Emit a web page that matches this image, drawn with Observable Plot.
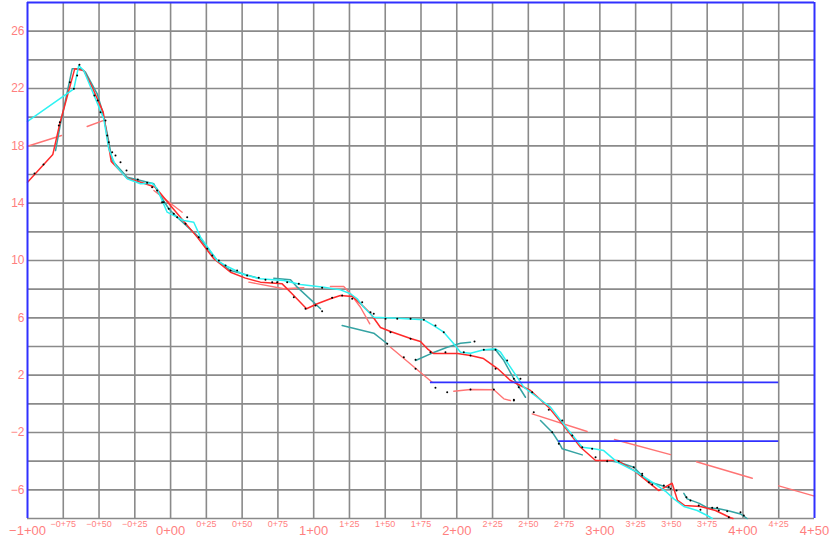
<!DOCTYPE html>
<html><head><meta charset="utf-8">
<script src="https://cdn.jsdelivr.net/npm/d3@7"></script>
<script src="https://cdn.jsdelivr.net/npm/@observablehq/plot@0.6"></script>
<style>html,body{margin:0;padding:0;background:#fff;}</style>
</head><body><div id="chart"></div>
<script>
// Stationing (x) and elevation (y) profiles
const redMain = [[-100,15.46],[-82.3,17.40],[-77.4,19.56],[-67.0,23.37],[-60.7,23.26],[-54.8,22.09],[-47.1,20.35],[-41.5,16.91],[-30.3,15.74],[-18.7,15.39],[-10.6,15.11],[-0.1,13.84],[18.6,11.63],[30.2,10.12],[41.9,9.18],[52.3,8.77],[62.8,8.49],[78.0,8.37],[86.1,7.56],[95.0,6.63],[102.5,6.98],[111.7,7.33],[118.7,7.56],[127.1,7.49],[134.1,6.86],[139.7,6.30],[146.7,5.33],[153.7,5.05],[167.7,4.56],[174.6,4.35],[179.5,3.84],[183.7,3.51],[200.5,3.51],[209.6,3.37],[218.7,3.16],[228.5,2.46],[237.5,1.63],[251.5,0.93],[264.1,-0.23],[273.7,-1.39],[286.5,-3.03],[297.0,-3.95],[312.1,-3.95],[323.7,-4.65],[341.2,-6.05],[350.5,-5.54],[354.3,-6.74],[359.1,-7.09],[370.3,-7.16],[380.8,-7.44],[391.3,-7.95],[393,-8]];

const cyanLine = [[-100,19.70],[-67.6,21.98],[-64.2,23.6],[-60.7,23.26],[-46.7,19.89],[-43.2,17.79],[-38.5,16.63],[-30.3,15.70],[-21.0,15.35],[-12.9,15.39],[-9.4,15.00],[-2.4,13.37],[9.2,12.79],[16.2,12.67],[20.9,11.63],[32.6,10.00],[39.6,9.58],[51.2,9.02],[62.8,8.72],[79.1,8.60],[90.8,8.33],[107.1,8.14],[118.7,7.95],[125.7,7.68],[130.4,7.33],[135.0,6.74],[142.0,6.04],[158.4,5.97],[177.0,5.86],[183.9,5.46],[190.9,5.00],[197.9,4.19],[202.6,3.60],[209.6,3.53],[218.9,3.77],[227.1,3.84],[230.6,3.60],[235.2,2.90],[242.2,1.86],[246.8,1.16],[256.2,0.46],[265.5,-0.23],[277.2,-1.74],[287.7,-3.03],[295.8,-3.14],[302.7,-3.26],[312.1,-4.07],[323.7,-4.65],[336.6,-5.47],[345.9,-6.10],[351.7,-6.63],[358.7,-7.16],[368.0,-7.44],[375.0,-7.79],[378.5,-8.0]];

const tealSegments = [
  [[-80.4,17.67],[-76.9,19.56],[-68.8,23.37],[-63.0,23.37],[-59.5,23.14],[-51.3,21.63],[-47.8,20.47],[-44.3,18.86],[-40.8,16.98],[-30.3,15.81],[-11.7,15.35],[-9.4,14.88],[-1.3,13.61],[4.6,13.02],[19.7,11.63],[32.6,10.00],[41.9,9.30],[61.6,8.76]],
  [[72.1,8.77],[83.8,8.65],[88.5,8.14],[104.8,6.63]],
  [[119.9,5.46],[142.0,4.93],[151.4,4.19]],
  [[171.2,3.02],[181.6,3.49],[193.3,3.95],[202.6,4.23],[209.6,4.30]],
  [[218.9,3.77],[227.1,3.77],[232.9,3.02],[239.9,1.75],[248.0,0.46]],
  [[258.5,-1.16],[266.7,-1.98],[271.3,-2.68],[273.7,-3.14],[287.7,-3.56]],
  [[305.1,-3.95],[313.2,-4.07],[323.7,-4.42],[330.7,-5.12],[335.4,-5.47],[344.7,-5.75],[348.2,-5.87]],
  [[358.7,-6.24],[361.0,-6.63],[369.1,-6.93],[375.0,-7.25],[383.1,-7.32],[389.0,-7.44],[398.3,-7.68],[402.9,-8.0]]
];

const salmonSegments = [
  [[-100,17.97],[-76.2,18.72]],
  [[-58.3,19.35],[-46.7,19.77]],
  [[-11.7,14.88],[8.1,13.37]],
  [[54.7,8.49],[79.1,8.03],[93.1,8.10]],
  [[111.7,8.19],[121.0,8.19],[125.7,7.68],[132.7,6.74],[139.2,5.58]],
  [[153.7,3.95],[182.8,1.51]],
  [[197.9,0.88],[209.6,1.00],[225.9,0.98],[232.9,0.35],[237.5,0.23]],
  [[252.7,-0.70],[291.1,-1.93]],
  [[310.2,-2.49],[349.4,-3.54]],
  [[367.5,-4.04],[406.5,-5.19]],
  [[425.0,-5.72],[450,-6.44]]
];

const blueLevels = [1.5, -2.6];
const blueStarts = [181.6, 271.3];
const blueEnds = [425, 425];

const surveyPoints = [[-95.1,16.07],[-88.8,16.7],[-78.1,19.42],[-77.4,19.65],[-70.4,22.44],[-67.6,21.98],[-65.3,22.9],[-63.7,23.65],[-53.2,21.51],[-50.9,21.16],[-49.0,20.35],[-45.5,19.77],[-44.3,18.72],[-43.2,18.25],[-40.8,17.56],[-38.5,17.33],[-35.0,16.86],[-30.8,16.28],[-22.9,15.65],[-16.4,15.42],[-12.9,15.11],[-9.4,14.88],[-4.8,14.07],[-5.9,14.07],[-1.3,13.61],[2.2,13.26],[4.6,13.02],[10.4,12.56],[11.6,13.02],[19.7,11.63],[25.6,10.82],[29.1,10.35],[33.7,10.0],[38.4,9.65],[41.9,9.30],[46.5,9.30],[53.5,8.95],[61.6,8.79],[66.3,8.65],[71.0,8.49],[74.5,8.49],[81.5,8.49],[86.1,7.44],[89.6,8.37],[94.3,6.63],[101.3,6.86],[105.9,6.46],[105.9,8.10],[112.9,7.40],[119.9,7.56],[126.9,7.33],[133.9,7.09],[139.7,6.39],[142.0,6.28],[150.2,5.93],[153.7,5.00],[151.4,4.19],[158.4,5.93],[167.7,5.93],[167.7,4.54],[177.0,5.86],[163.0,3.25],[171.2,2.44],[171.2,3.07],[181.6,3.60],[185.1,5.46],[190.9,5.00],[192.1,3.60],[204.9,3.60],[209.6,3.37],[218.9,3.77],[227.1,3.77],[227.1,2.44],[235.2,3.02],[244.5,1.75],[243.3,1.16],[185.1,1.12],[193.3,0.81],[209.6,1.0],[225.9,1.0],[239.9,0.23],[212.4,4.35],[239.9,1.75],[239.9,0.28],[252.7,0.81],[253.8,-0.58],[264.3,-0.42],[266.7,-1.98],[273.7,-1.16],[271.3,-2.79],[280.7,-2.21],[287.7,-3.03],[294.6,-3.14],[297.0,-3.72],[305.1,-4.0],[313.2,-4.0],[323.7,-4.42],[329.6,-5.0],[334.2,-5.47],[336.6,-5.63],[344.7,-5.70],[348.2,-5.81],[329.6,-4.88],[349.4,-5.93],[353.6,-6.05],[360.5,-6.51],[363.3,-6.74],[369.1,-7.09],[370.3,-7.39],[378.5,-7.25],[382.0,-7.25],[383.1,-7.44],[389.0,-7.49],[398.3,-7.56],[400.6,-7.79],[390.1,-7.91]];

// Grid and tick labels
const xGrid = [-75,-50,-25,0,25,50,75,100,125,150,175,200,225,250,275,300,325,350,375,400,425];
const yGrid = [26,24,22,20,18,16,14,12,10,8,6,4,2,0,-2,-4,-6,-8];
const xMajorTicks = [-100,0,100,200,300,400,450];
const xMajorLabels = ["\u22121+00","0+00","1+00","2+00","3+00","4+00","4+50"];
const xMinorTicks = [-75,-50,-25,25,50,75,125,150,175,225,250,275,325,350,375,425];
const xMinorLabels = ["\u22120+75","\u22120+50","\u22120+25","0+25","0+50","0+75","1+25","1+50","1+75","2+25","2+50","2+75","3+25","3+50","3+75","4+25"];
const yTicks = [26,22,18,14,10,6,2,-2,-6];
const yLabels = ["26","22","18","14","10","6","2","\u22122","\u22126"];

const toRows = (segs) => segs.flatMap((s, i) => s.map(([x, y]) => ({x, y, z: i})));
const blueRows = blueLevels.map((y, i) => ({y, x1: blueStarts[i], x2: blueEnds[i]}));
const majorRows = xMajorTicks.map((x, i) => ({x, label: xMajorLabels[i]}));
const minorRows = xMinorTicks.map((x, i) => ({x, label: xMinorLabels[i]}));
const yRows = yTicks.map((y, i) => ({y, label: yLabels[i]}));

const RED = "#ff2a2a", SALMON = "#ff7474", CYAN = "#2ef2f2", TEAL = "#35a3a3", BLUE = "#3030ff", GRID = "#8a8a8a", LABEL = "#ff7f7f";

const chart = Plot.plot({
  width: 832, height: 544,
  marginLeft: 27, marginRight: 18, marginTop: 2, marginBottom: 26,
  x: {domain: [-100, 450], axis: null},
  y: {domain: [-8, 28], axis: null},
  style: {fontFamily: "'Liberation Sans', Arial, sans-serif", background: "white"},
  marks: [
    Plot.ruleX(xGrid, {stroke: GRID, strokeWidth: 1.6}),
    Plot.ruleY(yGrid, {stroke: GRID, strokeWidth: 1.6}),
    Plot.line(toRows(salmonSegments), {x: "x", y: "y", z: "z", stroke: SALMON, strokeWidth: 1.4}),
    Plot.line(toRows(tealSegments), {x: "x", y: "y", z: "z", stroke: TEAL, strokeWidth: 1.5}),
    Plot.line(redMain, {stroke: RED, strokeWidth: 1.5}),
    Plot.line(cyanLine, {stroke: CYAN, strokeWidth: 1.5}),
    Plot.ruleY(blueRows, {y: "y", x1: "x1", x2: "x2", stroke: BLUE, strokeWidth: 1.6}),
    Plot.dot(surveyPoints, {r: 1, fill: "black", stroke: null}),
    Plot.ruleX([-100, 450], {stroke: BLUE, strokeWidth: 2}),
    Plot.ruleY([28], {stroke: BLUE, strokeWidth: 2}),
    Plot.text(yRows, {x: -100, y: "y", text: "label", textAnchor: "end", lineAnchor: "middle", dx: -3, fontSize: 12, fill: LABEL}),
    Plot.text(minorRows, {x: "x", y: -8, text: "label", textAnchor: "middle", lineAnchor: "middle", dy: 6, fontSize: 9, fill: LABEL}),
    Plot.text(majorRows, {x: "x", y: -8, text: "label", textAnchor: "middle", lineAnchor: "middle", dy: 12, fontSize: 13, fill: LABEL})
  ]
});
document.getElementById("chart").appendChild(chart);
</script>
</body></html>
